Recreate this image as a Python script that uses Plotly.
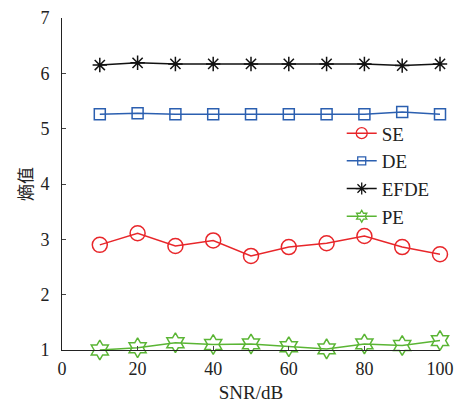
import plotly.graph_objects as go

snr = [10, 20, 30, 40, 50, 60, 70, 80, 90, 100]
se = [2.90, 3.11, 2.88, 2.98, 2.70, 2.86, 2.93, 3.06, 2.86, 2.73]
de = [5.26, 5.28, 5.26, 5.26, 5.26, 5.26, 5.26, 5.26, 5.30, 5.26]
efde = [6.15, 6.19, 6.17, 6.17, 6.17, 6.17, 6.17, 6.17, 6.14, 6.17]
pe = [1.00, 1.04, 1.13, 1.10, 1.11, 1.06, 1.02, 1.11, 1.08, 1.17]
x_ticks = [0, 20, 40, 60, 80, 100]
y_ticks = [1, 2, 3, 4, 5, 6, 7]

names = ["SE", "DE", "EFDE", "PE"]
series = [se, de, efde, pe]
colors = ["#e8262a", "#2b5fb0", "#111111", "#5ab534"]
symbols = ["circle-open", "square-open", "asterisk-open", "hexagram-open"]
sizes = [15, 11, 12, 15]
legend_sizes = [11, 8, 10, 9]

serif = "Liberation Serif, Times New Roman, serif"

fig = go.Figure()
for n, s, c, sym, sz in zip(names, series, colors, symbols, sizes):
    fig.add_trace(go.Scatter(x=snr, y=s, name=n, mode="lines+markers", showlegend=False,
                             cliponaxis=False,
                             line=dict(color=c, width=1.5),
                             marker=dict(symbol=sym, size=sz, color=c, line=dict(width=1.5, color=c))))
for n, c, sym, sz in zip(names, colors, symbols, legend_sizes):
    fig.add_trace(go.Scatter(x=[None], y=[None], name=n, mode="lines+markers",
                             line=dict(color=c, width=1.5),
                             marker=dict(symbol=sym, size=sz, color=c, line=dict(width=1.3, color=c))))

fig.update_layout(
    width=459, height=405,
    margin=dict(l=62, r=19, t=18, b=55),
    paper_bgcolor="white", plot_bgcolor="white",
    font=dict(family=serif, size=18, color="#222222"),
    showlegend=True,
    legend=dict(x=0.74, y=0.71, xanchor="left", yanchor="top",
                bgcolor="rgba(0,0,0,0)", font=dict(family=serif, size=19),
                tracegroupgap=0),
    xaxis=dict(range=[0, 100], tickvals=x_ticks, ticks="inside", ticklen=4,
               showline=True, linecolor="#222222", linewidth=1, mirror=False,
               showgrid=False, zeroline=False, ticklabelstandoff=2, automargin=False,
               title=dict(text="SNR/dB", font=dict(family=serif, size=19), standoff=8)),
    yaxis=dict(range=[1, 7], tickvals=y_ticks, ticks="inside", ticklen=4,
               showline=True, linecolor="#222222", linewidth=1, mirror=False,
               showgrid=False, zeroline=False, ticklabelstandoff=8, automargin=False,
               title=dict(text="熵值", font=dict(family="Noto Sans CJK SC", size=17), standoff=3)),
)

fig.write_html("out.html")
